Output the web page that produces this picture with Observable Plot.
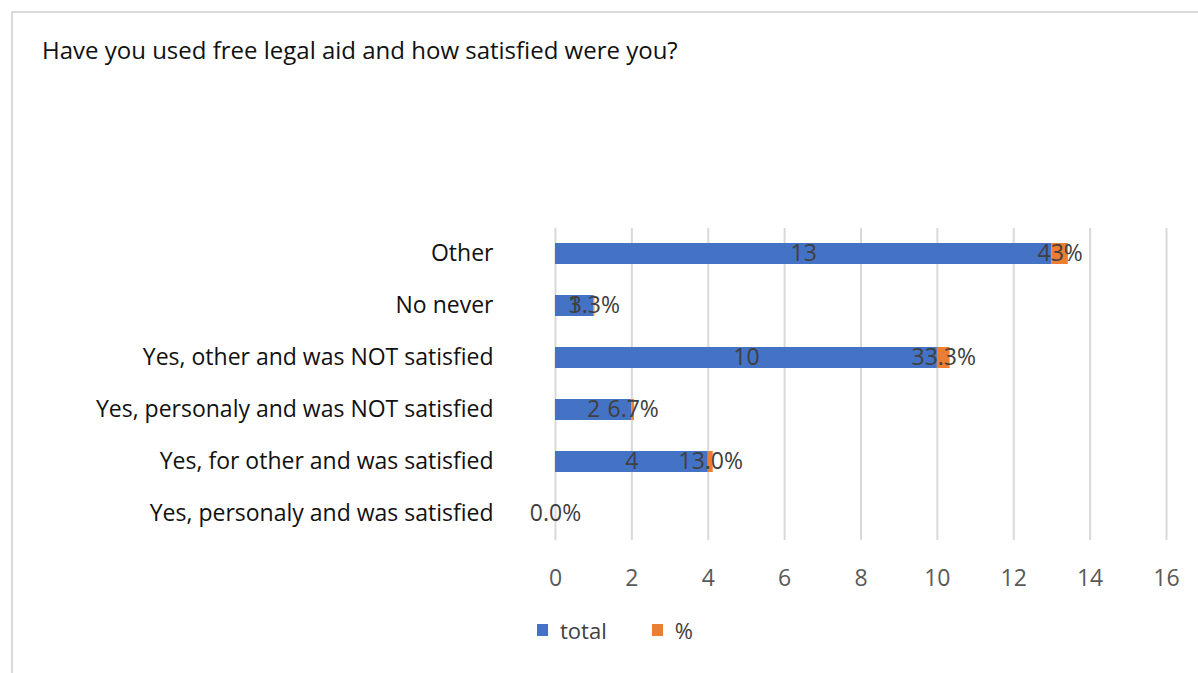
<!DOCTYPE html>
<html>
<head>
<meta charset="utf-8">
<script src="https://cdn.jsdelivr.net/npm/d3@7"></script>
<script src="https://cdn.jsdelivr.net/npm/@observablehq/plot@0.6"></script>
<style>
  body { margin: 0; background: #fff; font-family: "Open Sans", sans-serif; }
  #wrap { position: relative; width: 1198px; height: 673px; overflow: hidden; }
  #card { position: absolute; left: 11px; top: 11px; width: 1200px; height: 700px; border: 2px solid #d9d9d9; box-sizing: border-box; }
  #title { position: absolute; left: 42px; top: 33px; font-size: 24px; color: #111; white-space: nowrap; }
  #chart { position: absolute; left: 0; top: 0; }
  #legend { position: absolute; left: 537px; top: 615px; font-size: 22px; color: #404040; display: flex; align-items: center; }
  .sw { display: inline-block; width: 11px; height: 12px; margin-right: 12px; }
</style>
</head>
<body>
<div id="wrap">
  <div id="card"></div>
  <div id="chart"></div>
  <div id="title">Have you used free legal aid and how satisfied were you?</div>
  <div id="legend"></div>
</div>
<script>
const categories = [
  "Other",
  "No never",
  "Yes, other and was NOT satisfied",
  "Yes, personaly and was NOT satisfied",
  "Yes, for other and was satisfied",
  "Yes, personaly and was satisfied"
];
const totals = [13, 1, 10, 2, 4, 0];
const percents = [0.43, 0.033, 0.333, 0.067, 0.13, 0.0];
const percentLabels = ["43%", "3.3%", "33.3%", "6.7%", "13.0%", "0.0%"];
const seriesNames = ["total", "%"];
const seriesColors = ["#4472C4", "#ED7D31"];
const xTicks = [0, 2, 4, 6, 8, 10, 12, 14, 16];

const rows = [];
categories.forEach((c, i) => {
  rows.push({cat: c, series: "total", value: totals[i], label: totals[i] > 0 ? String(totals[i]) : ""});
  rows.push({cat: c, series: "%", value: percents[i], label: percentLabels[i]});
});

const chart = Plot.plot({
  width: 1198,
  height: 610,
  marginLeft: 555,
  marginRight: 32,
  marginTop: 228,
  marginBottom: 70,
  style: {fontFamily: "Open Sans, sans-serif", background: "transparent"},
  x: {domain: [0, 16], ticks: xTicks, label: null},
  y: {domain: categories, paddingInner: 0.59, paddingOuter: 0.295, label: null},
  color: {domain: seriesNames, range: seriesColors},
  marks: [
    Plot.gridX(xTicks, {stroke: "#d9d9d9", strokeWidth: 2, strokeOpacity: 1}),
    Plot.barX(rows, Plot.stackX({x: "value", y: "cat", z: "series", fill: "series", order: seriesNames})),
    Plot.textX(rows, Plot.stackX({x: "value", y: "cat", z: "series", order: seriesNames, text: "label", fill: "#404040", fontSize: 23})),
    Plot.axisX({ticks: xTicks, tickSize: 0, tickPadding: 29, fontSize: 23, fill: "#595959", label: null}),
    Plot.axisY({tickSize: 0, tickPadding: 62, fontSize: 23, fill: "#111", label: null})
  ]
});
document.getElementById("chart").appendChild(chart);

const legend = document.getElementById("legend");
seriesNames.forEach((s, i) => {
  const item = document.createElement("span");
  item.style.display = "inline-flex";
  item.style.alignItems = "center";
  item.style.marginRight = i === 0 ? "45px" : "0";
  item.innerHTML = `<span class="sw" style="background:${seriesColors[i]}"></span>${s}`;
  legend.appendChild(item);
});
</script>
</body>
</html>
